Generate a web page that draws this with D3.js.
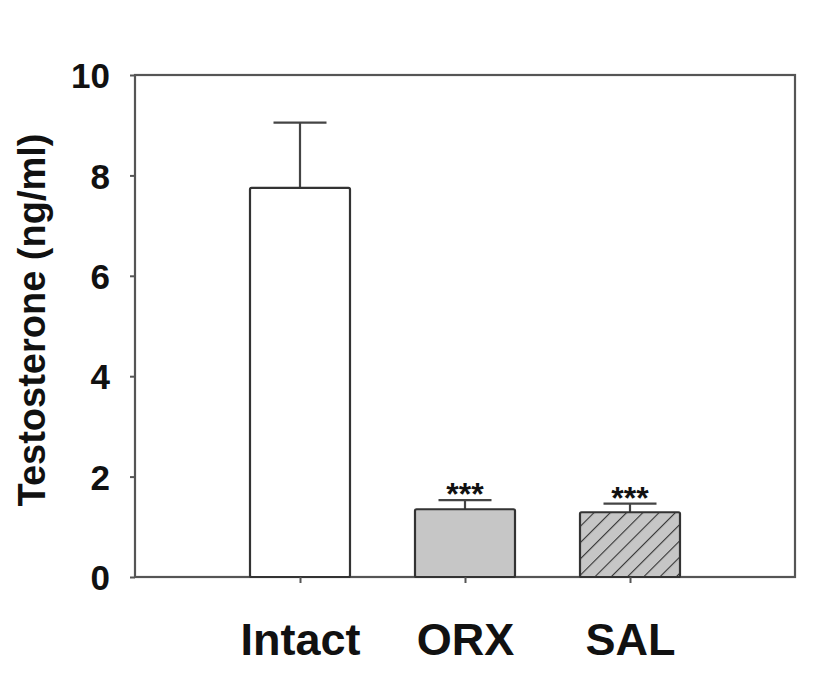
<!DOCTYPE html>
<html><head><meta charset="utf-8">
<script src="https://cdn.jsdelivr.net/npm/d3@7"></script>
<style>body{margin:0;background:#fff}</style>
</head><body>
<svg id="c" width="827" height="674"></svg>
<script>
const categories = ["Intact", "ORX", "SAL"];
const means = [7.75, 1.35, 1.29];
const errors = [1.30, 0.18, 0.17];
const significance = ["", "***", "***"];
const yTicks = [0, 2, 4, 6, 8, 10];
const fills = ["#ffffff", "#c6c6c6", "hatch"];

const svg = d3.select("#c");
const L = 135, R = 795, T = 75, B = 577;
const x = d3.scalePoint().domain(categories).range([L, R]).padding(1);
const y = d3.scaleLinear().domain([0, 10]).range([B, T]);
const barW = 100, capW = 53;
const stroke = "#555";
const font = "Liberation Sans, Arial, sans-serif";

const hs = 11.5;
const defs = svg.append("defs");
const pat = defs.append("pattern").attr("id", "hatch").attr("patternUnits", "userSpaceOnUse")
  .attr("width", hs).attr("height", hs).attr("patternTransform", "rotate(45)");
pat.append("rect").attr("width", hs).attr("height", hs).attr("fill", "#c6c6c6");
pat.append("line").attr("x1", 0).attr("y1", 0).attr("x2", 0).attr("y2", hs)
  .attr("stroke", "#333").attr("stroke-width", 2.2);

// frame
svg.append("rect").attr("x", L).attr("y", T).attr("width", R - L).attr("height", B - T)
  .attr("fill", "none").attr("stroke", stroke).attr("stroke-width", 2.2);

// error bars
categories.forEach((c, i) => {
  const cx = x(c);
  svg.append("line").attr("x1", cx).attr("x2", cx).attr("y1", y(means[i])).attr("y2", y(means[i] + errors[i]))
    .attr("stroke", "#444").attr("stroke-width", 2.2);
  svg.append("line").attr("x1", cx - capW / 2).attr("x2", cx + capW / 2)
    .attr("y1", y(means[i] + errors[i])).attr("y2", y(means[i] + errors[i]))
    .attr("stroke", "#444").attr("stroke-width", 2.2);
});

// bars
svg.selectAll("rect.bar").data(categories).join("rect").attr("class", "bar")
  .attr("x", d => x(d) - barW / 2).attr("width", barW)
  .attr("y", (d, i) => y(means[i])).attr("height", (d, i) => B - y(means[i]))
  .attr("fill", (d, i) => fills[i] === "hatch" ? "url(#hatch)" : fills[i])
  .attr("stroke", "#333").attr("stroke-width", 2.2).attr("rx", 1.5);

// significance stars
svg.selectAll("text.sig").data(categories).join("text").attr("class", "sig")
  .attr("x", d => x(d)).attr("y", (d, i) => y(means[i] + errors[i]) + 5)
  .attr("text-anchor", "middle").attr("font-family", font)
  .attr("font-weight", "bold").attr("font-size", 32).attr("fill", "#111")
  .text((d, i) => significance[i]);

// y axis
const yAxis = svg.append("g").attr("transform", `translate(${L},0)`)
  .call(d3.axisLeft(y).tickValues(yTicks).tickSize(5).tickPadding(20).tickFormat(d3.format("d")));
yAxis.select(".domain").remove();
yAxis.selectAll(".tick line").attr("stroke", stroke).attr("stroke-width", 2);
yAxis.selectAll("text").attr("font-family", font)
  .attr("font-weight", "bold").attr("font-size", 35).attr("fill", "#111").attr("dy", "0.36em");

// x axis
const xAxis = svg.append("g").attr("transform", `translate(0,${B})`)
  .call(d3.axisBottom(x).tickSize(6).tickPadding(40));
xAxis.select(".domain").remove();
xAxis.selectAll(".tick line").attr("stroke", stroke).attr("stroke-width", 2);
xAxis.selectAll("text").attr("font-family", font)
  .attr("font-weight", "bold").attr("font-size", 45).attr("fill", "#111");

// y title
svg.append("text").attr("transform", `translate(45,320) rotate(-90)`)
  .attr("text-anchor", "middle").attr("font-family", font)
  .attr("font-weight", "bold").attr("font-size", 38).attr("fill", "#111")
  .text("Testosterone (ng/ml)");
</script>
</body></html>
